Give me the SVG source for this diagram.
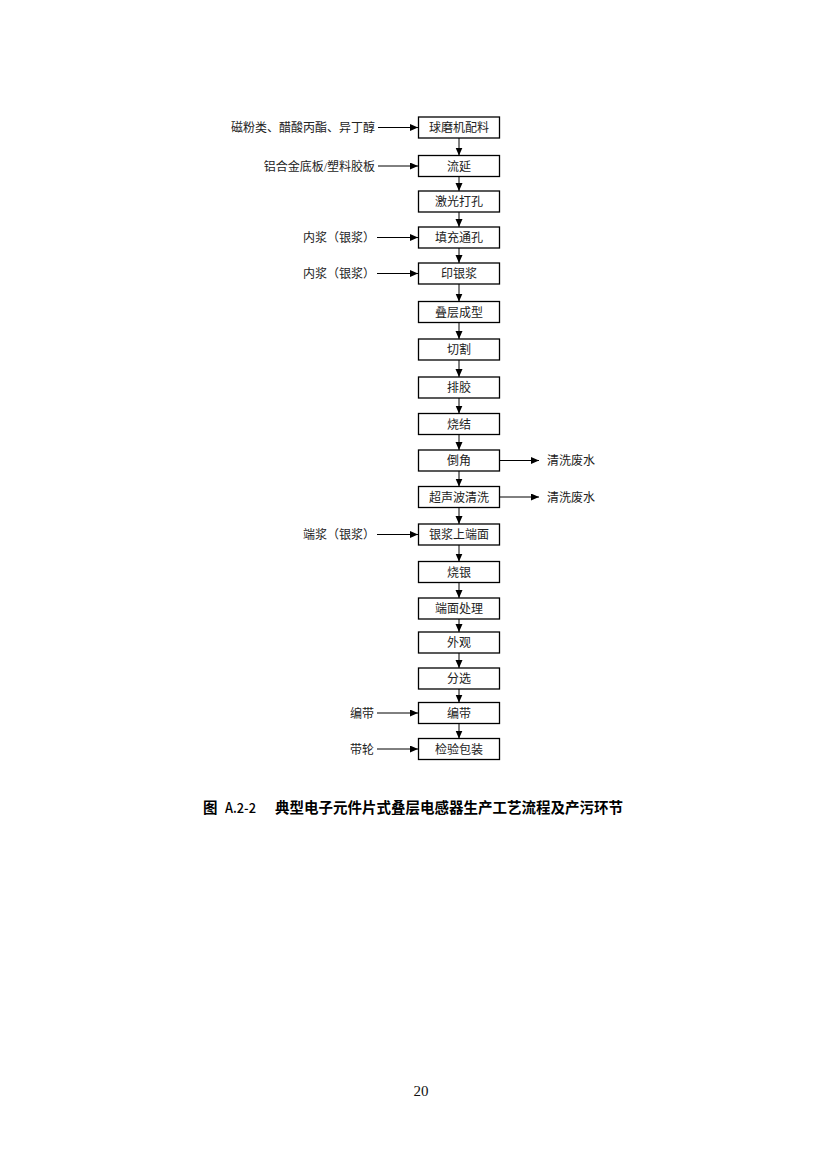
<svg xmlns="http://www.w3.org/2000/svg" width="826" height="1169" viewBox="0 0 826 1169">
<defs>
<style>
.box{fill:#fff;stroke:#000;stroke-width:1.3}
.t{font-family:"Liberation Serif","Noto Sans CJK SC",serif;font-size:12px;fill:#222}
.c{text-anchor:middle}
.e{text-anchor:end}
.ln{stroke:#000;stroke-width:1;fill:none;marker-end:url(#ah)}
.cap{font-family:"Noto Sans CJK SC",sans-serif;font-size:14.5px;font-weight:bold;fill:#000}
.capm{font-family:"Noto Sans CJK SC",sans-serif;font-size:14px;font-weight:500;fill:#000}
</style>
<marker id="ah" markerUnits="userSpaceOnUse" markerWidth="9" markerHeight="8" refX="8" refY="3.5" orient="auto">
<path d="M0,0 L8,3.5 L0,7 z" fill="#000"/>
</marker>
</defs>
<rect width="826" height="1169" fill="#fff"/>
<g id="connectors">
<line class="ln" x1="459" y1="138" x2="459" y2="155.5"/>
<line class="ln" x1="459" y1="176.5" x2="459" y2="191"/>
<line class="ln" x1="459" y1="212" x2="459" y2="227"/>
<line class="ln" x1="459" y1="248" x2="459" y2="263"/>
<line class="ln" x1="459" y1="284" x2="459" y2="301.5"/>
<line class="ln" x1="459" y1="322.5" x2="459" y2="339"/>
<line class="ln" x1="459" y1="360" x2="459" y2="377"/>
<line class="ln" x1="459" y1="398" x2="459" y2="413.5"/>
<line class="ln" x1="459" y1="434.5" x2="459" y2="450"/>
<line class="ln" x1="459" y1="471" x2="459" y2="486.5"/>
<line class="ln" x1="459" y1="507.5" x2="459" y2="524"/>
<line class="ln" x1="459" y1="545" x2="459" y2="561.5"/>
<line class="ln" x1="459" y1="582.5" x2="459" y2="598"/>
<line class="ln" x1="459" y1="619" x2="459" y2="632"/>
<line class="ln" x1="459" y1="653" x2="459" y2="668"/>
<line class="ln" x1="459" y1="689" x2="459" y2="702.5"/>
<line class="ln" x1="459" y1="723.5" x2="459" y2="738.5"/>
<line class="ln" x1="378" y1="127.5" x2="418" y2="127.5"/>
<line class="ln" x1="378" y1="166" x2="418" y2="166"/>
<line class="ln" x1="377" y1="237.5" x2="418" y2="237.5"/>
<line class="ln" x1="377" y1="273.5" x2="418" y2="273.5"/>
<line class="ln" x1="377" y1="534.5" x2="418" y2="534.5"/>
<line class="ln" x1="377" y1="713" x2="418" y2="713"/>
<line class="ln" x1="377" y1="749" x2="418" y2="749"/>
<line class="ln" x1="500" y1="460.5" x2="539" y2="460.5"/>
<line class="ln" x1="500" y1="497" x2="539" y2="497"/>
</g>
<g id="n1"><rect class="box" x="418.5" y="117" width="81" height="21"/><text class="t c" x="459" y="132">球磨机配料</text></g>
<g id="n2"><rect class="box" x="418.5" y="155.5" width="81" height="21"/><text class="t c" x="459" y="170.5">流延</text></g>
<g id="n3"><rect class="box" x="418.5" y="191" width="81" height="21"/><text class="t c" x="459" y="206">激光打孔</text></g>
<g id="n4"><rect class="box" x="418.5" y="227" width="81" height="21"/><text class="t c" x="459" y="242">填充通孔</text></g>
<g id="n5"><rect class="box" x="418.5" y="263" width="81" height="21"/><text class="t c" x="459" y="278">印银浆</text></g>
<g id="n6"><rect class="box" x="418.5" y="301.5" width="81" height="21"/><text class="t c" x="459" y="316.5">叠层成型</text></g>
<g id="n7"><rect class="box" x="418.5" y="339" width="81" height="21"/><text class="t c" x="459" y="354">切割</text></g>
<g id="n8"><rect class="box" x="418.5" y="377" width="81" height="21"/><text class="t c" x="459" y="392">排胶</text></g>
<g id="n9"><rect class="box" x="418.5" y="413.5" width="81" height="21"/><text class="t c" x="459" y="428.5">烧结</text></g>
<g id="n10"><rect class="box" x="418.5" y="450" width="81" height="21"/><text class="t c" x="459" y="465">倒角</text></g>
<g id="n11"><rect class="box" x="418.5" y="486.5" width="81" height="21"/><text class="t c" x="459" y="501.5">超声波清洗</text></g>
<g id="n12"><rect class="box" x="418.5" y="524" width="81" height="21"/><text class="t c" x="459" y="539">银浆上端面</text></g>
<g id="n13"><rect class="box" x="418.5" y="561.5" width="81" height="21"/><text class="t c" x="459" y="576.5">烧银</text></g>
<g id="n14"><rect class="box" x="418.5" y="598" width="81" height="21"/><text class="t c" x="459" y="613">端面处理</text></g>
<g id="n15"><rect class="box" x="418.5" y="632" width="81" height="21"/><text class="t c" x="459" y="647">外观</text></g>
<g id="n16"><rect class="box" x="418.5" y="668" width="81" height="21"/><text class="t c" x="459" y="683">分选</text></g>
<g id="n17"><rect class="box" x="418.5" y="702.5" width="81" height="21"/><text class="t c" x="459" y="717.5">编带</text></g>
<g id="n18"><rect class="box" x="418.5" y="738.5" width="81" height="21"/><text class="t c" x="459" y="753.5">检验包装</text></g>
<g id="inputs">
<text class="t e" x="375" y="132">磁粉类、醋酸丙酯、异丁醇</text>
<text class="t e" x="375" y="170.5">铝合金底板/塑料胶板</text>
<text class="t e" x="375" y="242">内浆（银浆）</text>
<text class="t e" x="375" y="278">内浆（银浆）</text>
<text class="t e" x="375" y="539">端浆（银浆）</text>
<text class="t e" x="374" y="717.5">编带</text>
<text class="t e" x="374" y="753.5">带轮</text>
</g>
<g id="outputs">
<text class="t" x="547" y="465">清洗废水</text>
<text class="t" x="547" y="501.5">清洗废水</text>
</g>
<g id="caption">
<text class="cap" x="203" y="813">图</text>
<text class="capm" x="225" y="813" textLength="31" lengthAdjust="spacingAndGlyphs">A.2-2</text>
<text class="cap" x="275" y="813" textLength="348" lengthAdjust="spacingAndGlyphs">典型电子元件片式叠层电感器生产工艺流程及产污环节</text>
</g>
<text x="421" y="1096" text-anchor="middle" font-family="'Liberation Serif',serif" font-size="15" fill="#111">20</text>
</svg>
